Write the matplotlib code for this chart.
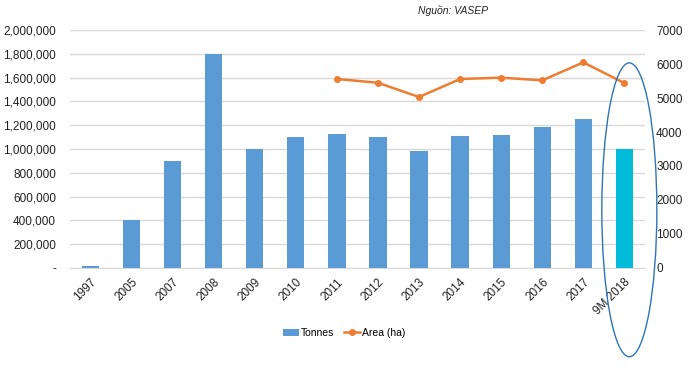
import matplotlib.pyplot as plt
import numpy as np
from matplotlib.patches import Ellipse
from matplotlib.ticker import FuncFormatter

plt.rcParams['font.family'] = ['Liberation Sans', 'DejaVu Sans']

years = ['1997', '2005', '2007', '2008', '2009', '2010', '2011', '2012',
         '2013', '2014', '2015', '2016', '2017', '9M 2018']
tonnes = [18000, 400000, 900000, 1800000, 1000000, 1100000, 1125000, 1100000,
          980000, 1110000, 1120000, 1185000, 1250000, 1000000]
area_years = ['2011', '2012', '2013', '2014', '2015', '2016', '2017', '9M 2018']
area = [5560, 5450, 5030, 5560, 5600, 5520, 6050, 5440]

bar_color = '#5b9bd5'
hi_color = '#00bcd9'
line_color = '#ed7d31'

fig = plt.figure(figsize=(6.92, 3.67), dpi=100)
ax = fig.add_axes([0.101, 0.27, 0.831, 0.648])
x = np.arange(len(years))
colors = [bar_color] * (len(years) - 1) + [hi_color]
bars = ax.bar(x, tonnes, width=0.42, color=colors, zorder=3, label='Tonnes')

ax.set_ylim(0, 2000000)
ax.set_yticks(np.arange(0, 2000001, 200000))
ax.yaxis.set_major_formatter(FuncFormatter(lambda v, p: '-' if v == 0 else f'{int(v):,}'))
ax.set_xlim(-0.5, len(years) - 0.5)
ax.set_xticks(x)
ax.set_xticklabels(years, rotation=45, ha='right', rotation_mode='anchor')
ax.grid(axis='y', color='#d9d9d9', linewidth=1, zorder=0)
for s in ax.spines.values():
    s.set_visible(False)
ax.spines['bottom'].set_visible(True)
ax.spines['bottom'].set_color('#d9d9d9')
ax.tick_params(axis='both', length=0, labelsize=8.5, colors='#222222')
ax.tick_params(axis='y', pad=10)
ax.tick_params(axis='x', pad=6)

ax2 = ax.twinx()
ax2.set_ylim(0, 7000)
ax2.set_yticks(np.arange(0, 7001, 1000))
ax2.tick_params(axis='y', length=0, labelsize=8.5, colors='#222222', pad=8)
for s in ax2.spines.values():
    s.set_visible(False)
ax_idx = [years.index(y) for y in area_years]
line, = ax2.plot(ax_idx, area, color=line_color, marker='o', markersize=4,
                 linewidth=1.8, zorder=4, label='Area (ha)')

ell = Ellipse((13.12, 1710), width=1.34, height=8650, fill=False,
              edgecolor='#2e75b6', linewidth=1.0, clip_on=False, zorder=5)
ax2.add_patch(ell)

fig.legend([bars, line], ['Tonnes', 'Area (ha)'], loc='center',
           bbox_to_anchor=(0.497, 1 - 333 / 367), ncol=2, frameon=False,
           fontsize=7.5, handlelength=1.6, columnspacing=0.9, handletextpad=0.15)

fig.text(0.655, 1 - 11 / 367, 'Nguồn: VASEP', fontsize=7.5, style='italic',
         ha='center', va='center', color='#222222')

fig.savefig('out.png', dpi=100)
